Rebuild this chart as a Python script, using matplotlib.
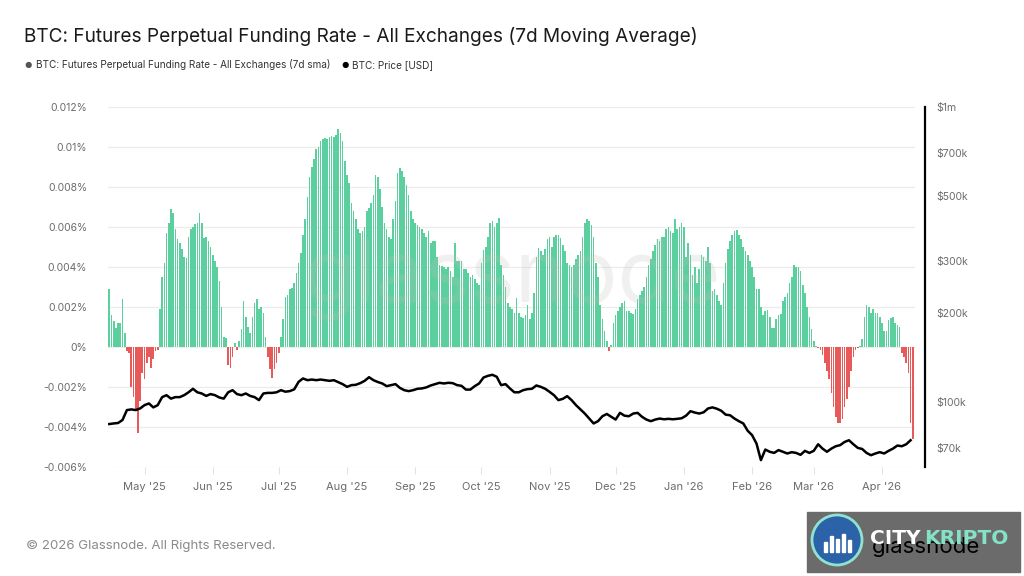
import numpy as np
import pandas as pd
import matplotlib
matplotlib.use("Agg")
import matplotlib.pyplot as plt
import matplotlib.dates as mdates
from matplotlib.patches import Rectangle, Ellipse
from matplotlib.ticker import FixedLocator, NullLocator

plt.rcParams['font.family'] = ['Inter', 'DejaVu Sans']

################### Data ######################################
start_date = "2025-04-15"

# daily 7d sma funding rate, in units of 0.001 %
funding_rate = [
    2.9, 1.6, 1.3, 0.95, 1.2, 1.2, 2.4, 0.7, -0.2, -0.3,
    -2.0, -2.5, -3.1, -4.3, -2.7, -1.3, -1.6, -0.8, -0.5, -1.05,
    -0.6, -0.2, -0.15, 1.9, 3.5, 4.2, 5.7, 6.2, 6.9, 6.7,
    5.9, 5.4, 5.2, 4.9, 4.5, 4.45, 5.5, 5.9, 6.0, 6.15,
    6.2, 6.7, 6.2, 5.45, 5.5, 5.3, 5.0, 4.6, 4.3, 4.0,
    3.3, 2.0, 0.5, 0.45, -0.9, -1.05, -0.5, 0.2, -0.13, 0.3,
    0.9, 2.3, 1.5, 1.0, 0.7, 1.5, 2.2, 2.4, 1.9, 2.0,
    1.7, 0.5, -0.5, -1.1, -1.55, -1.1, -0.8, -0.3, 0.5, 1.4,
    2.5, 2.6, 2.9, 2.95, 3.2, 3.7, 4.2, 4.7, 5.6, 6.4,
    7.5, 8.5, 9.0, 9.4, 9.9, 10.0, 10.3, 10.4, 10.45, 10.4,
    10.5, 10.55, 10.5, 10.6, 10.9, 10.7, 10.3, 9.3, 8.6, 8.2,
    7.2, 6.8, 6.4, 5.9, 5.7, 5.8, 6.0, 6.8, 6.95, 7.2,
    7.6, 8.6, 8.5, 7.9, 7.0, 6.2, 5.9, 5.5, 5.4, 6.4,
    7.3, 8.7, 8.95, 8.8, 8.5, 8.1, 7.6, 6.8, 6.4, 6.2,
    6.1, 6.0, 5.9, 5.7, 5.5, 5.8, 5.2, 5.3, 5.3, 4.5,
    4.1, 4.05, 4.0, 3.9, 4.0, 3.8, 3.5, 5.2, 4.3, 4.3,
    4.3, 3.9, 3.9, 3.7, 3.5, 3.6, 3.4, 3.2, 3.1, 4.2,
    4.85, 5.0, 5.5, 6.2, 6.3, 6.0, 6.2, 6.45, 4.1, 3.6,
    3.0, 2.2, 2.0, 1.9, 1.7, 2.45, 1.7, 1.5, 1.45, 1.6,
    2.1, 1.4, 1.7, 2.7, 4.5, 4.95, 4.8, 4.6, 4.9, 5.4,
    5.5, 5.0, 5.5, 5.6, 5.6, 5.45, 5.1, 4.8, 4.2, 4.1,
    4.0, 4.1, 4.4, 4.6, 4.8, 5.5, 6.2, 6.4, 6.3, 6.1,
    5.5, 4.2, 3.5, 2.1, 1.4, 0.8, 0.3, -0.2, 0.1, 1.2,
    1.6, 1.8, 2.0, 2.2, 2.3, 1.8, 1.8, 1.7, 1.65, 1.9,
    2.4, 2.6, 2.8, 3.0, 3.5, 4.1, 4.4, 4.8, 5.1, 5.4,
    5.3, 5.5, 5.5, 5.9, 6.0, 5.8, 5.7, 6.4, 5.9, 6.0,
    6.2, 6.0, 4.5, 5.2, 4.6, 3.6, 4.0, 3.2, 3.9, 4.6,
    4.5, 4.3, 5.0, 4.2, 2.8, 2.9, 2.6, 2.3, 2.1, 3.2,
    4.2, 4.9, 5.3, 5.6, 5.8, 5.85, 5.6, 5.4, 5.0, 4.8,
    4.6, 4.3, 4.0, 3.5, 2.9, 2.9, 2.0, 1.6, 1.8, 1.85,
    1.5, 0.95, 0.95, 1.4, 1.6, 1.65, 2.3, 2.5, 2.7, 3.2,
    3.5, 4.1, 4.0, 4.0, 3.8, 3.1, 2.7, 2.0, 1.5, 0.9,
    0.3, 0.05, -0.05, -0.15, -0.4, -0.8, -1.2, -1.6, -2.3, -3.0,
    -3.5, -3.8, -3.8, -3.6, -3.0, -2.6, -2.0, -1.2, -0.5, -0.15,
    -0.05, 0.05, 0.4, 1.5, 2.1, 2.0, 1.7, 1.9, 1.7, 1.7,
    1.5, 1.2, 0.8, 0.8, 1.35, 1.45, 1.5, 1.2, 1.1, 1.0,
    -0.3, -0.5, -0.8, -1.3, -3.8, -4.6,
]

# BTC price in k USD, one value every 2 days
price_k = [
    84.3, 84.7, 85.0, 87.0, 94.0, 94.5, 94.0, 95.2, 97.7, 99.0,
    96.0, 97.7, 104.0, 105.6, 102.8, 104.0, 104.0, 105.6, 108.0, 111.0,
    108.0, 107.0, 105.0, 106.5, 105.6, 103.7, 102.8, 108.0, 109.8, 106.5,
    105.6, 107.0, 105.0, 104.0, 101.6, 107.0, 107.5, 107.5, 108.0, 109.8,
    108.5, 109.0, 110.5, 117.2, 120.3, 118.7, 119.3, 118.7, 119.3, 118.7,
    118.1, 118.7, 116.9, 115.1, 112.7, 114.2, 114.5, 116.0, 118.1, 121.5,
    118.7, 117.0, 115.7, 113.3, 114.2, 115.1, 111.8, 109.8, 109.0, 109.8,
    111.0, 111.3, 112.2, 113.9, 115.1, 116.3, 115.7, 116.3, 116.0, 114.2,
    113.6, 110.3, 110.3, 113.3, 115.7, 121.2, 122.8, 123.8, 121.9, 114.2,
    115.1, 111.3, 108.0, 108.0, 109.8, 110.7, 111.0, 113.9, 112.7, 111.0,
    108.4, 105.6, 101.6, 102.6, 104.8, 101.6, 97.7, 94.5, 91.5, 88.0,
    84.7, 86.2, 89.6, 91.2, 89.2, 87.3, 92.0, 90.0, 89.6, 91.5,
    92.0, 89.2, 87.3, 86.2, 87.3, 88.0, 87.5, 87.8, 87.5, 87.8,
    88.2, 90.0, 93.2, 92.2, 91.5, 92.4, 95.2, 96.0, 95.0, 93.5,
    90.7, 90.3, 88.0, 86.2, 84.7, 80.0, 77.3, 72.4, 63.6, 69.1,
    67.9, 67.3, 68.8, 67.9, 67.0, 67.7, 67.3, 66.3, 68.4, 67.3,
    68.4, 72.0, 69.6, 67.9, 69.6, 70.9, 71.5, 73.3, 74.3, 72.0,
    70.0, 69.4, 67.3, 66.1, 67.0, 67.7, 67.0, 68.4, 69.6, 71.3,
    70.9, 72.0, 74.3,
]

funding_ticks = [-0.006, -0.004, -0.002, 0, 0.002, 0.004, 0.006, 0.008,
                 0.01, 0.012]
funding_labels = ["-0.006%", "-0.004%", "-0.002%", "0%", "0.002%", "0.004%",
                  "0.006%", "0.008%", "0.01%", "0.012%"]
price_ticks = [70e3, 100e3, 200e3, 300e3, 500e3, 700e3, 1e6]
price_labels = ["$70k", "$100k", "$200k", "$300k", "$500k", "$700k", "$1m"]
###############################################################

green = "#5ccf9f"
red = "#e8595a"
grey_text = "#6b6b6b"

days = pd.date_range(start_date, periods=len(funding_rate), freq="D")
funding = np.array(funding_rate) / 1000.0
price_days = pd.date_range(start_date, periods=len(price_k), freq="2D")
price = np.array(price_k) * 1000.0

fig = plt.figure(figsize=(10.24, 5.76), dpi=100)
ax = fig.add_axes([108 / 1024, 109 / 576, 807 / 1024, 360 / 576])
ax2 = ax.twinx()

colors = [green if v >= 0 else red for v in funding]
ax.bar(days, funding, width=0.74, color=colors, zorder=2)

ax.set_ylim(-0.006, 0.012)
ax.set_yticks(funding_ticks)
ax.set_yticklabels(funding_labels)
ax.yaxis.grid(True, color="#ececec", linewidth=0.9, zorder=0)
ax.set_axisbelow(True)
ax.tick_params(axis="y", length=0, pad=15, labelsize=7.5,
               labelcolor=grey_text)

x0 = pd.Timestamp(start_date) - pd.Timedelta(hours=14)
x1 = pd.Timestamp(start_date) + pd.Timedelta(days=366)
ax.set_xlim(x0, x1)
ax.xaxis.set_major_locator(mdates.MonthLocator())
ax.xaxis.set_major_formatter(mdates.DateFormatter("%b '%y"))
ax.tick_params(axis="x", length=5, width=0.8, color="#e2e2e2", pad=6,
               labelsize=8, labelcolor=grey_text)

for s in ["top", "left", "right", "bottom"]:
    ax.spines[s].set_visible(False)

ax2.plot(price_days, price, color="black", linewidth=1.8, zorder=3)
ax2.set_yscale("log")
ax2.set_ylim(60.3e3, 1e6)
ax2.yaxis.set_major_locator(FixedLocator(price_ticks))
ax2.yaxis.set_minor_locator(NullLocator())
ax2.set_yticklabels(price_labels)
ax2.tick_params(axis="y", length=0, pad=8, labelsize=7.5,
                labelcolor=grey_text)
for s in ["top", "left", "bottom"]:
    ax2.spines[s].set_visible(False)
ax2.spines["right"].set_position(("outward", 7))
ax2.spines["right"].set_linewidth(1.6)
ax2.spines["right"].set_color("black")
ax2.set_xlim(x0, x1)

# watermark
ax2.text(0.5, 0.52, "glassnode", transform=ax.transAxes, ha="center",
         va="center", fontsize=62, color="#bdbdbd", alpha=0.22, zorder=4)

# title and legend
fig.text(24 / 1024, 1 - 36 / 576,
         "BTC: Futures Perpetual Funding Rate - All Exchanges (7d Moving Average)",
         fontsize=13.7, color="#1a1a1a", va="center", ha="left")
fig.text(24 / 1024, 1 - 65 / 576, "\u25CF", fontsize=6, color="#555555",
         va="center")
fig.text(36 / 1024, 1 - 65 / 576,
         "BTC: Futures Perpetual Funding Rate - All Exchanges (7d sma)",
         fontsize=7.2, color="#333333", va="center")
fig.text(341 / 1024, 1 - 65 / 576, "\u25CF", fontsize=6, color="black",
         va="center")
fig.text(352 / 1024, 1 - 65 / 576, "BTC: Price [USD]", fontsize=7.2,
         color="#333333", va="center")

fig.text(26 / 1024, 1 - 546 / 576, "\u00A9 2026 Glassnode. All Rights Reserved.",
         fontsize=9.5, color="#8a8a8a", va="center")

# citykripto badge bottom right
fig.patches.append(Rectangle((807 / 1024, 4 / 576), 213 / 1024, 60 / 576,
                             transform=fig.transFigure, color="#6b6b6b",
                             zorder=1))
fig.patches.append(Ellipse((837 / 1024, 36 / 576), 50 / 1024, 50 / 576,
                           transform=fig.transFigure, facecolor="#2b62a8",
                           edgecolor="#8fe3cf", linewidth=2, zorder=2))
for i, h in enumerate([10, 16, 13, 18, 12]):
    fig.patches.append(Rectangle(((824 + i * 6) / 1024, 24 / 576),
                                 3 / 1024, h / 576,
                                 transform=fig.transFigure, color="white",
                                 zorder=3))
fig.text(872 / 1024, 1 - 547 / 576, "glassnode", fontsize=16,
         color="black", va="center", zorder=3)
fig.text(870 / 1024, 1 - 539 / 576, "CITY", fontsize=14.5,
         fontweight="bold", family="DejaVu Sans", color="white",
         va="center", zorder=4)
fig.text(924 / 1024, 1 - 539 / 576, "KRIPTO", fontsize=14.5, fontweight="bold",
         family="DejaVu Sans", color="#84e2c6", va="center", zorder=4)

plt.savefig("out.png", dpi=100)
